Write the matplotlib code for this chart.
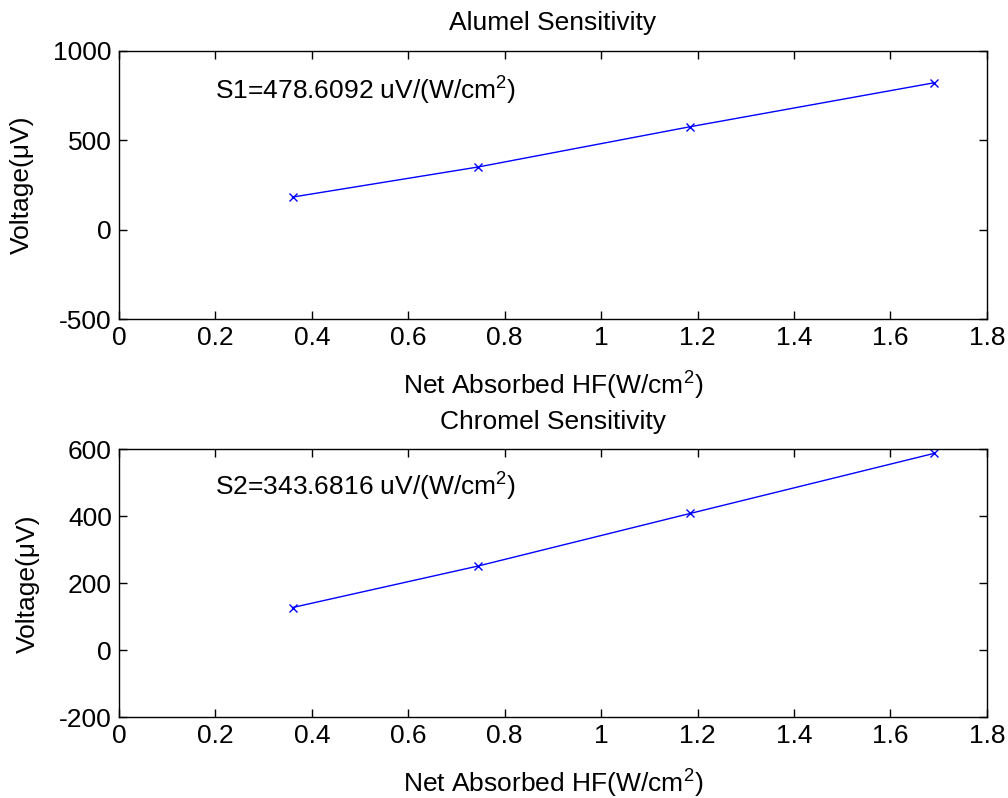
import matplotlib
matplotlib.use("Agg")
import matplotlib.pyplot as plt

plt.rcParams['font.family'] = ['Liberation Sans', 'DejaVu Sans']
plt.rcParams['mathtext.fontset'] = 'custom'
plt.rcParams['mathtext.rm'] = 'Liberation Sans'
plt.rcParams['mathtext.it'] = 'Liberation Sans:italic'

# heat flux (W/cm^2) and measured voltages (uV)
hf = [0.36, 0.745, 1.185, 1.69]
alumel_v = [182, 350, 575, 820]
chromel_v = [128, 252, 409, 588]

s1 = 478.6092
s2 = 343.6816

xticks = [0, 0.2, 0.4, 0.6, 0.8, 1, 1.2, 1.4, 1.6, 1.8]
xticklabels = ["0", "0.2", "0.4", "0.6", "0.8", "1", "1.2", "1.4", "1.6", "1.8"]

fig = plt.figure(figsize=(10.08, 7.98), dpi=100)
ax1 = fig.add_axes([0.118, 0.600, 0.861, 0.3366])
ax2 = fig.add_axes([0.118, 0.101, 0.861, 0.3358])

fs = 19

def style(ax, yvals, ylim, yticks, title, label, ty):
    ax.plot(hf, yvals, color="#0000ff", linewidth=1.0,
            marker="x", markersize=6, markeredgewidth=1.0)
    ax.set_xlim(0, 1.8)
    ax.set_ylim(*ylim)
    ax.set_xticks(xticks)
    ax.set_xticklabels(xticklabels)
    ax.set_yticks(yticks)
    ax.set_yticklabels([str(t) for t in yticks])
    ax.tick_params(direction="in", length=6, width=1.0, top=True, right=True,
                   labelsize=fs, pad=5, colors="black")
    for sp in ax.spines.values():
        sp.set_linewidth(1.0)
        sp.set_color("black")
    ax.set_title(title, fontsize=fs, pad=15)
    ax.set_xlabel(r"Net Absorbed HF(W/cm$^2$)", fontsize=fs, labelpad=14)
    ax.set_ylabel("Voltage(μV)", fontsize=fs, labelpad=14)
    ax.text(0.2, ty, label, fontsize=fs, va="center", ha="left")

style(ax1, alumel_v, (-500, 1000), [-500, 0, 500, 1000], "Alumel Sensitivity",
      r"S1=%.4f uV/(W/cm$^2$)" % s1, 775)
style(ax2, chromel_v, (-200, 600), [-200, 0, 200, 400, 600], "Chromel Sensitivity",
      r"S2=%.4f uV/(W/cm$^2$)" % s2, 488)

fig.savefig("out.png", dpi=100)
